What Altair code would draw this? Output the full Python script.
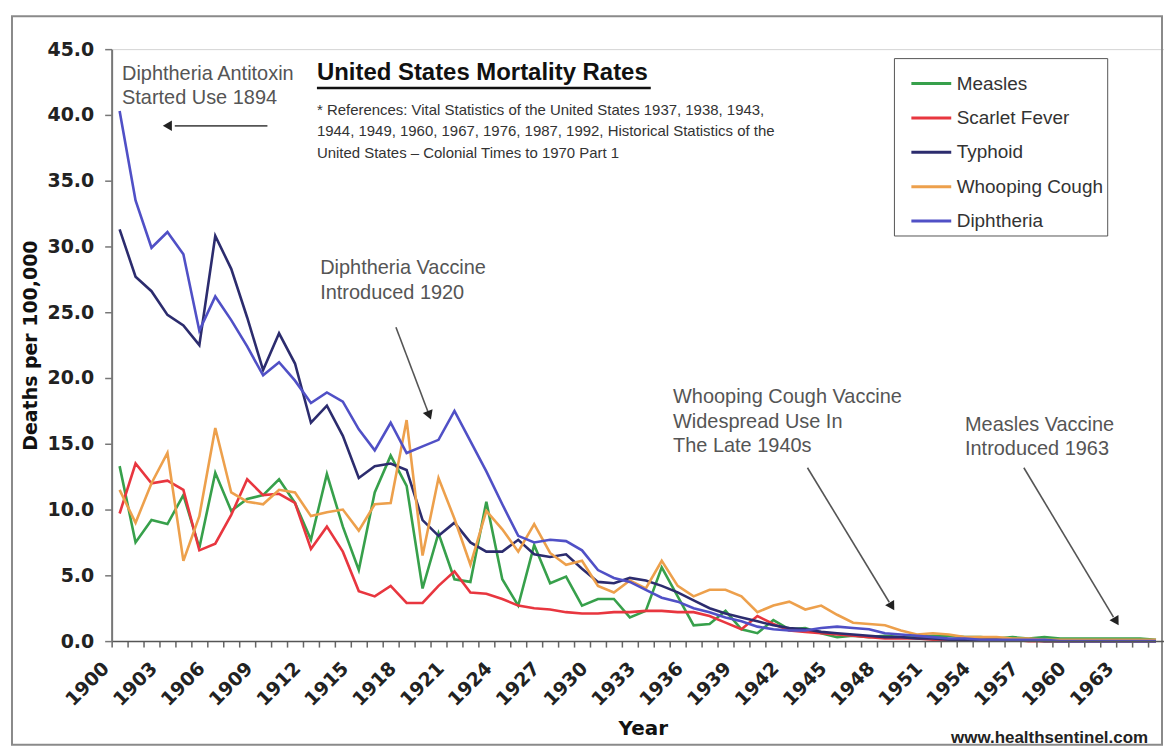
import altair as alt
import pandas as pd

years = list(range(1900, 1966))

measles = [13.3, 7.5, 9.2, 8.9, 11.1, 7.1, 12.8, 9.9, 10.8, 11.1,
           12.3, 10.5, 7.7, 12.7, 8.7, 5.4, 11.3, 14.1, 11.8, 4.0,
           8.2, 4.7, 4.5, 10.6, 4.7, 2.7, 7.3, 4.4, 4.9, 2.7,
           3.2, 3.2, 1.8, 2.3, 5.6, 3.4, 1.2, 1.3, 2.3, 0.9,
           0.6, 1.6, 0.9, 1.0, 0.6, 0.3, 0.4, 0.3, 0.4, 0.3,
           0.3, 0.4, 0.4, 0.3, 0.3, 0.2, 0.3, 0.2, 0.3, 0.2,
           0.2, 0.2, 0.2, 0.2, 0.2, 0.1]

scarlet_fever = [9.7, 13.5, 12.0, 12.2, 11.5, 6.9, 7.4, 9.6, 12.3, 11.1,
                 11.2, 10.5, 7.0, 8.7, 6.8, 3.8, 3.4, 4.2, 2.9, 2.9,
                 4.2, 5.3, 3.7, 3.6, 3.2, 2.7, 2.5, 2.4, 2.2, 2.1,
                 2.1, 2.2, 2.2, 2.3, 2.3, 2.2, 2.2, 1.9, 1.4, 0.9,
                 1.9, 1.3, 0.8, 0.7, 0.6, 0.5, 0.4, 0.3, 0.2, 0.2,
                 0.2, 0.1, 0.1, 0.1, 0.1, 0.1, 0.1, 0.0, 0.0, 0.0,
                 0.0, 0.0, 0.0, 0.0, 0.0, 0.0]

typhoid = [31.3, 27.7, 26.6, 24.8, 24.0, 22.5, 30.8, 28.3, 24.6, 20.6,
           23.4, 21.1, 16.6, 17.9, 15.6, 12.4, 13.3, 13.5, 13.0, 9.2,
           8.0, 9.0, 7.5, 6.8, 6.8, 7.7, 6.6, 6.4, 6.6, 5.5,
           4.5, 4.4, 4.8, 4.6, 4.2, 3.7, 3.1, 2.5, 2.1, 1.8,
           1.5, 1.2, 1.0, 0.9, 0.7, 0.6, 0.5, 0.4, 0.3, 0.3,
           0.2, 0.2, 0.1, 0.1, 0.1, 0.1, 0.1, 0.1, 0.0, 0.0,
           0.0, 0.0, 0.0, 0.0, 0.0, 0.0]

whooping_cough = [11.5, 9.0, 12.0, 14.3, 6.1, 9.5, 16.2, 11.3, 10.6, 10.4,
                  11.5, 11.3, 9.5, 9.8, 10.0, 8.4, 10.4, 10.5, 16.8, 6.5,
                  12.4, 9.3, 5.8, 9.9, 8.5, 6.8, 8.9, 6.7, 5.8, 6.1,
                  4.2, 3.7, 4.6, 4.0, 6.1, 4.2, 3.4, 3.9, 3.9, 3.4,
                  2.2, 2.7, 3.0, 2.4, 2.7, 2.0, 1.4, 1.3, 1.2, 0.8,
                  0.5, 0.6, 0.5, 0.3, 0.3, 0.3, 0.2, 0.2, 0.1, 0.1,
                  0.1, 0.1, 0.1, 0.1, 0.1, 0.1]

diphtheria = [40.3, 33.5, 29.9, 31.1, 29.4, 23.6, 26.2, 24.4, 22.4, 20.2,
              21.2, 19.8, 18.1, 18.9, 18.2, 16.1, 14.5, 16.6, 14.3, 14.8,
              15.3, 17.5, 15.2, 12.9, 10.4, 8.0, 7.5, 7.7, 7.6, 6.9,
              5.4, 4.8, 4.5, 3.9, 3.3, 3.0, 2.5, 2.2, 1.8, 1.5,
              1.1, 0.9, 0.8, 0.8, 1.0, 1.1, 1.0, 0.9, 0.6, 0.5,
              0.4, 0.3, 0.2, 0.2, 0.1, 0.1, 0.1, 0.1, 0.1, 0.0,
              0.0, 0.0, 0.0, 0.0, 0.0, 0.0]

series_names = ["Measles", "Scarlet Fever", "Typhoid", "Whooping Cough", "Diphtheria"]
series_values = [measles, scarlet_fever, typhoid, whooping_cough, diphtheria]
series_colors = ["#37a04b", "#e8363f", "#2c2c6e", "#eda04c", "#5050c6"]

y_ticks = [0, 5, 10, 15, 20, 25, 30, 35, 40, 45]

title_text = "United States Mortality Rates"
reference_lines = [
    "* References: Vital Statistics of the United States 1937, 1938, 1943,",
    "1944, 1949, 1960, 1967, 1976, 1987, 1992, Historical Statistics of the",
    "United States \u2013 Colonial Times to 1970 Part 1",
]

note_texts = [
    "Diphtheria Antitoxin\nStarted Use 1894",
    "Diphtheria Vaccine\nIntroduced 1920",
    "Whooping Cough Vaccine\nWidespread Use In\nThe Late 1940s",
    "Measles Vaccine\nIntroduced 1963",
]
note_years = [1900.15, 1912.58, 1934.71, 1953.02]
note_rates = [43.9, 29.1, 19.3, 17.2]

arrow_year1 = [1909.27, 1917.33, 1943.14, 1956.71]
arrow_rate1 = [39.17, 23.86, 13.18, 13.18]
arrow_year2 = [1903.46, 1919.39, 1948.27, 1962.33]
arrow_rate2 = [39.17, 17.27, 2.95, 1.82]
head_years = [1903.09, 1919.39, 1948.39, 1962.46]
head_rates = [39.17, 17.27, 2.73, 1.59]
head_angles = [270, 159, 149, 149]

assert all(len(v) == len(years) for v in series_values)

rows = []
for name, vals in zip(series_names, series_values):
    for yr, v in zip(years, vals):
        rows.append({"Year": yr, "Rate": v, "Disease": name})
df = pd.DataFrame(rows)

notes_df = pd.DataFrame({"Year": note_years, "Rate": note_rates, "label": note_texts})
arrows_df = pd.DataFrame({"Year": arrow_year1, "Rate": arrow_rate1,
                          "Year2": arrow_year2, "Rate2": arrow_rate2})
heads_df = pd.DataFrame({"Year": head_years, "Rate": head_rates, "ang": head_angles})
one = pd.DataFrame({"a": [0]})

x_scale = alt.Scale(domain=[1899.5, 1965.5], nice=False, zero=False)
y_scale = alt.Scale(domain=[0, 45], nice=False)

x_axis = alt.Axis(
    values=years, format="d",
    labelExpr="(datum.value - 1900) % 3 == 0 ? datum.label : ''",
    labelAngle=315, labelAlign="right", labelBaseline="middle",
    labelFont="DejaVu Sans", labelFontWeight="bold", labelFontSize=19,
    labelColor="#222", labelPadding=18, labelOffset=-6,
    labelOverlap=False, labelFlush=False,
    tickOffset=-8, tickSize=6, tickColor="#666", tickWidth=1.5,
    domainColor="#555", domainWidth=1.5, grid=False, zindex=1,
    title="Year", titleFont="DejaVu Sans", titleFontWeight="bold", titleFontSize=20,
    titleColor="#111", titleX=533, titleY=88, titleAlign="center", titleBaseline="middle",
)
y_axis = alt.Axis(
    values=y_ticks, format=".1f",
    labelFont="DejaVu Sans", labelFontWeight="bold", labelFontSize=19,
    labelColor="#222", labelPadding=11,
    tickSize=7, tickColor="#777", tickWidth=1.5,
    domainColor="#777", domainWidth=2, grid=False, zindex=1,
    title="Deaths per 100,000", titleFont="DejaVu Sans", titleFontWeight="bold",
    titleFontSize=19, titleColor="#111", titleX=-81, titleY=297, titleAngle=270,
    titleAlign="center", titleBaseline="middle",
)

X = alt.X("Year:Q", scale=x_scale, axis=x_axis)
Y = alt.Y("Rate:Q", scale=y_scale, axis=y_axis)

frame = alt.Chart(one).mark_rect(fillOpacity=0, stroke="#8a8a8a", strokeWidth=2).encode(
    x=alt.value(-100), x2=alt.value(1054), y=alt.value(-33), y2=alt.value(698)
)

lines = alt.Chart(df).mark_line(strokeWidth=2.6).encode(
    x=X, y=Y,
    color=alt.Color(
        "Disease:N",
        scale=alt.Scale(domain=series_names, range=series_colors),
        legend=alt.Legend(
            title=None, orient="none", legendX=785, legendY=9,
            symbolType="stroke", symbolSize=1600, symbolStrokeWidth=3,
            symbolOffset=12,
            labelFont="Liberation Sans", labelFontSize=19, labelColor="#333",
            labelOffset=4, rowPadding=2.5, padding=4, labelLimit=400,
            strokeColor="#555", fillColor="white",
        ),
    ),
)

title = alt.Chart(one).mark_text(
    text=title_text, font="Liberation Sans", fontWeight="bold", fontSize=24,
    align="left", baseline="middle", color="#111"
).encode(x=alt.value(206), y=alt.value(24))

underline = alt.Chart(one).mark_rule(color="#111", strokeWidth=2.5).encode(
    x=alt.value(206), x2=alt.value(541), y=alt.value(39)
)

refs = alt.Chart(one).mark_text(
    text="\n".join(reference_lines), lineBreak="\n", lineHeight=21.5,
    font="Liberation Sans", fontSize=15, color="#333", align="left", baseline="top"
).encode(x=alt.value(206), y=alt.value(54))

notes = alt.Chart(notes_df).mark_text(
    lineBreak="\n", lineHeight=24.5, font="Liberation Sans", fontSize=20,
    color="#555", align="left", baseline="top"
).encode(x=X, y=Y, text="label:N")

arrows = alt.Chart(arrows_df).mark_rule(color="#555", strokeWidth=1.6).encode(
    x=X, y=Y, x2="Year2:Q", y2="Rate2:Q"
)

heads = alt.Chart(heads_df).mark_point(
    shape="triangle", filled=True, size=110, color="#222", opacity=1
).encode(x=X, y=Y, angle=alt.Angle("ang:Q", scale=None))

site = alt.Chart(one).mark_text(
    text="www.healthsentinel.com", font="Liberation Sans", fontWeight="bold",
    fontSize=17, color="#222", align="right", baseline="alphabetic"
).encode(x=alt.value(1040), y=alt.value(696))

chart = alt.layer(
    frame, lines, title, underline, refs, notes, arrows, heads, site
).properties(
    width=1056, height=594,
    padding={"left": 104, "top": 40, "right": 0, "bottom": 108},
    autosize=alt.AutoSizeParams(type="none"),
    background="white",
).configure_view(stroke="#d4d4d4")

chart.save("out.html", embed_options={"renderer": "svg", "actions": False})
